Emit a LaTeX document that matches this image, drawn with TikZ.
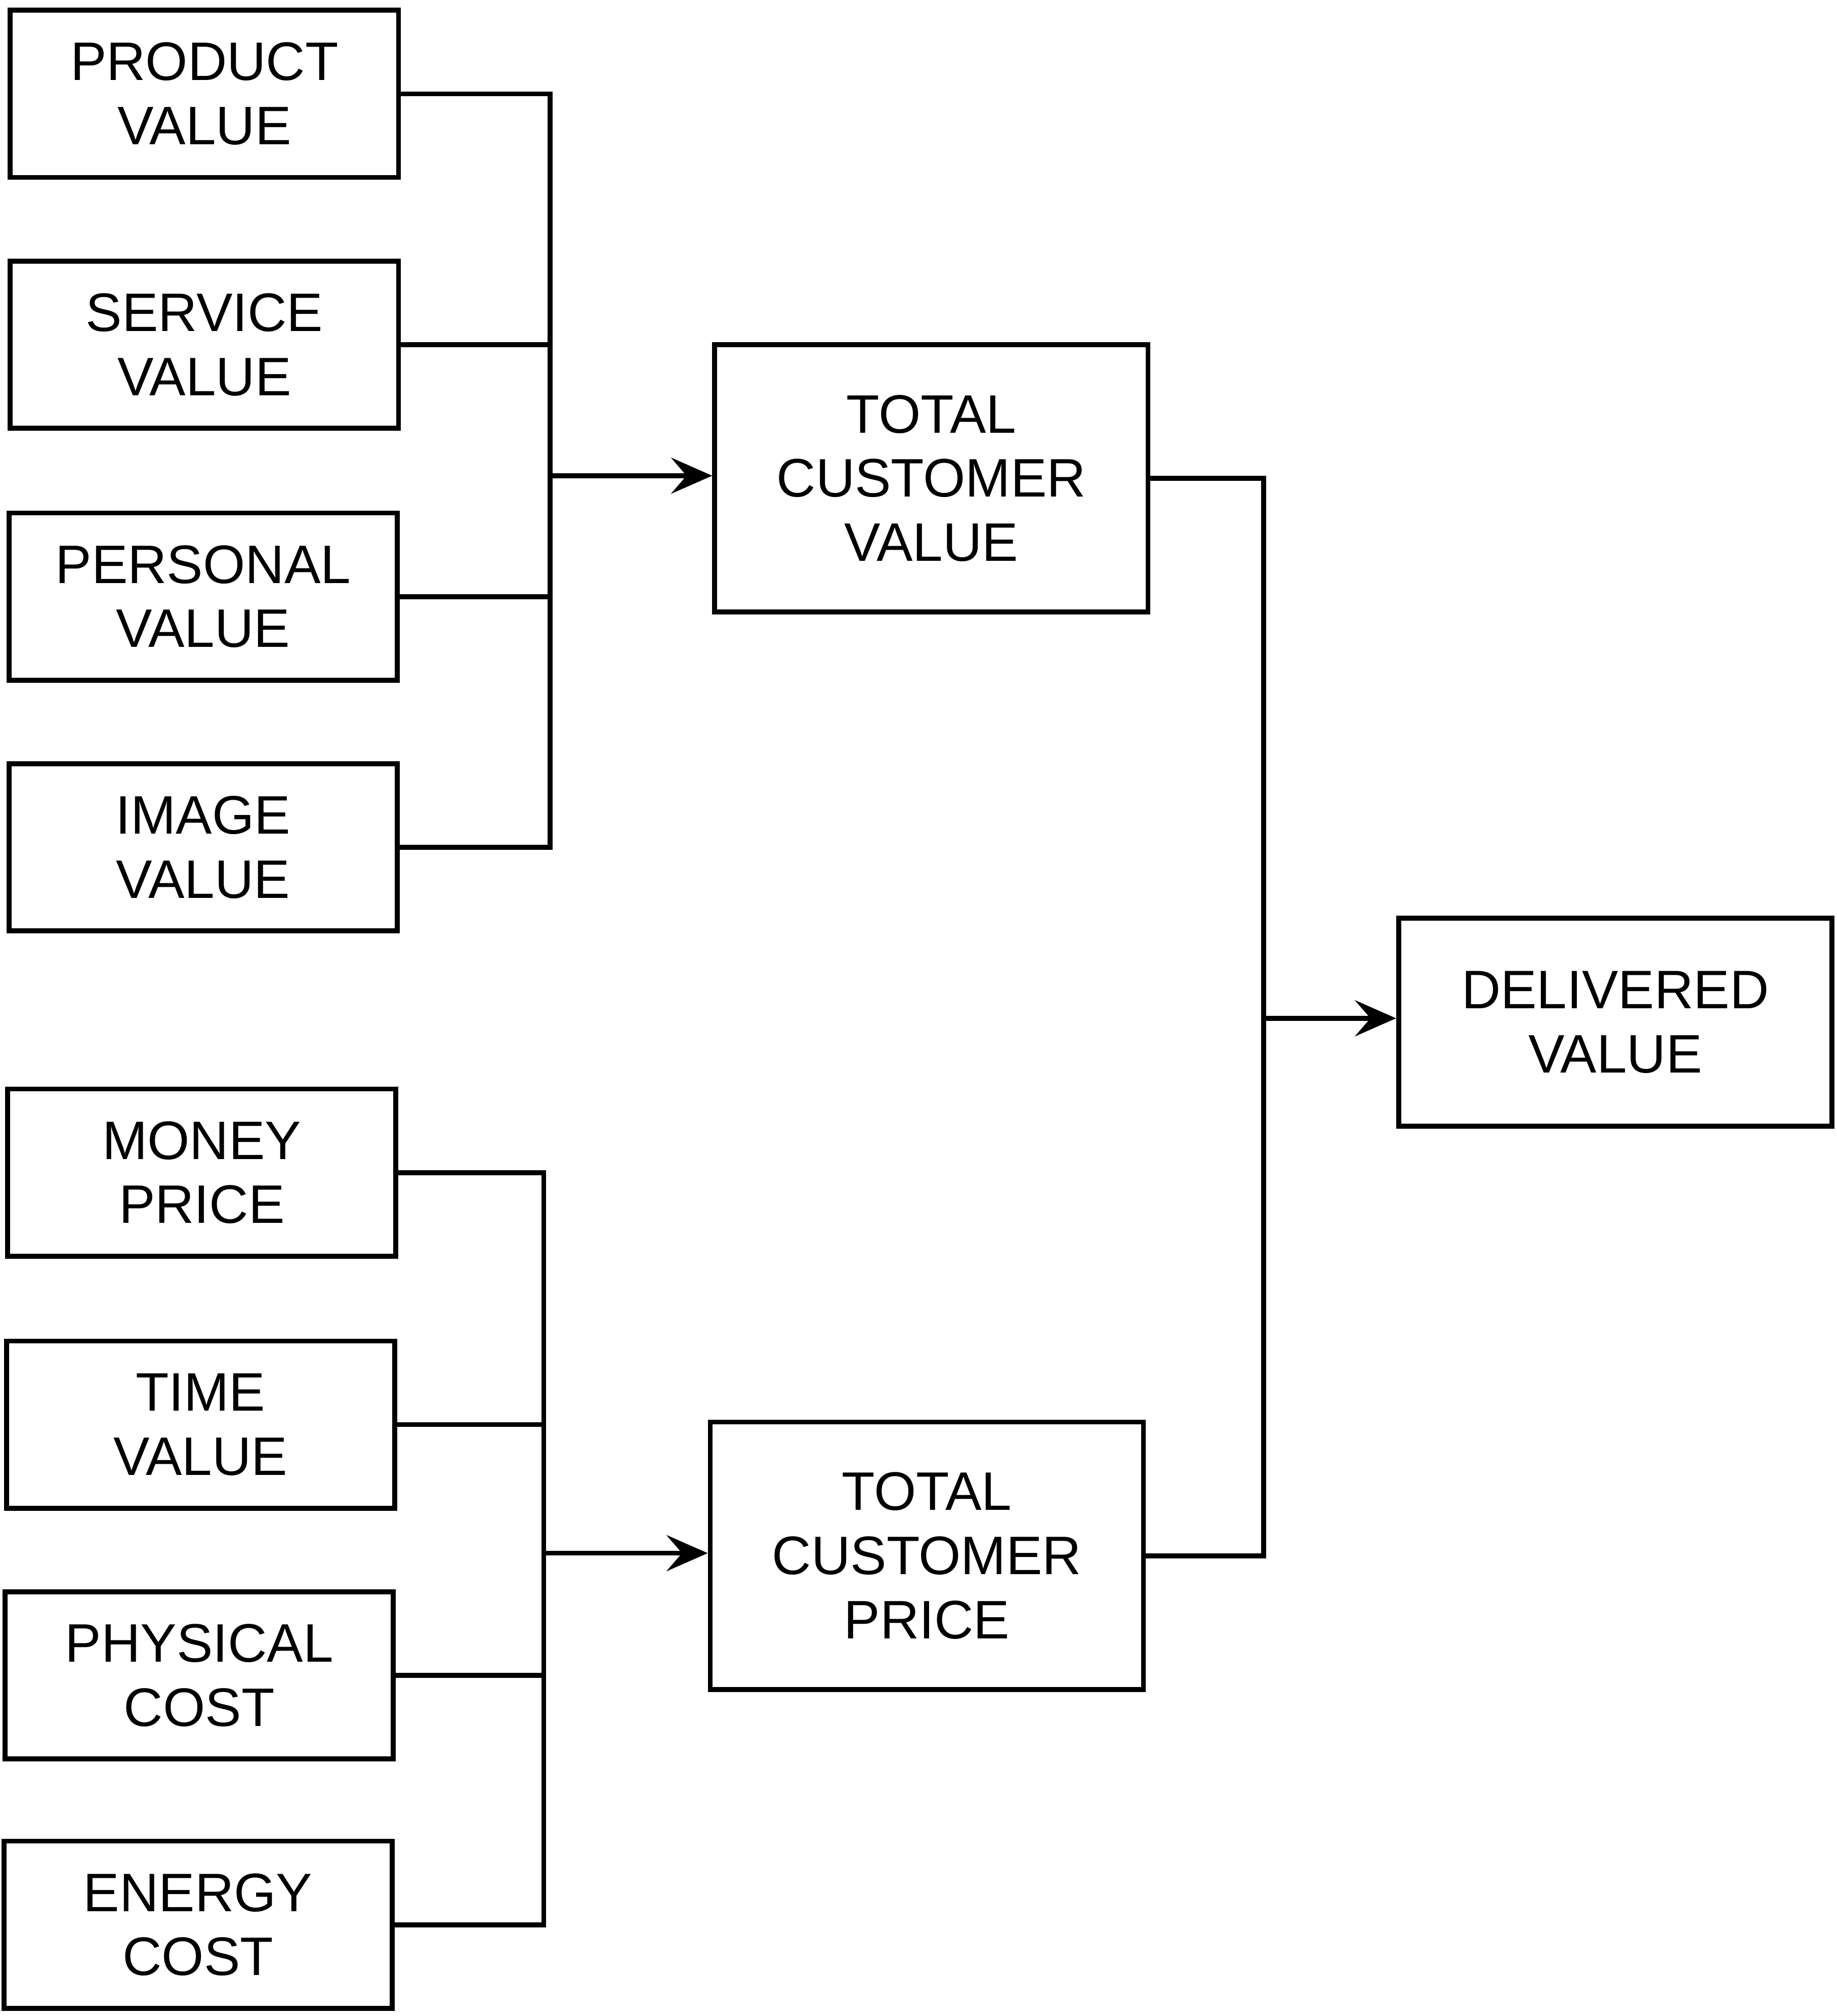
\documentclass[tikz,border=0pt]{standalone}
\usepackage{fontspec}
\setmainfont{Liberation Sans}
\usetikzlibrary{arrows.meta}

\tikzset{
  box/.style={draw,line width=1.1pt,minimum width=3.02cm,minimum height=1.30cm,align=center,font=\fontsize{12pt}{14.2pt}\selectfont},
  bigbox/.style={box,minimum width=3.37cm,minimum height=2.08cm},
  link/.style={line width=1.1pt,line join=miter},
  feed/.style={link,-{Stealth[length=3.2mm,width=2.8mm,inset=1.2mm]}}
}

\begin{document}
\begin{tikzpicture}
  \useasboundingbox (0,0) rectangle (14.29,-15.68);

  % benefits
  \node[box] (pv) at (1.59,-0.73) {PRODUCT\\VALUE};
  \node[box] (sv) at (1.59,-2.68) {SERVICE\\VALUE};
  \node[box] (psv) at (1.58,-4.64) {PERSONAL\\VALUE};
  \node[box] (iv) at (1.58,-6.59) {IMAGE\\VALUE};

  % costs
  \node[box] (mp) at (1.57,-9.12) {MONEY\\PRICE};
  \node[box] (tv) at (1.56,-11.08) {TIME\\VALUE};
  \node[box] (pc) at (1.55,-13.03) {PHYSICAL\\COST};
  \node[box] (ec) at (1.54,-14.97) {ENERGY\\COST};

  \node[bigbox] (tcv) at (7.245,-3.72) {TOTAL\\CUSTOMER\\VALUE};
  \node[bigbox] (tcp) at (7.21,-12.10) {TOTAL\\CUSTOMER\\PRICE};
  \node[bigbox,minimum height=1.62cm] (dv) at (12.565,-7.95) {DELIVERED\\VALUE};

  \coordinate (vbus) at (4.28,-3.70);
  \coordinate (pbus) at (4.23,-12.08);
  \coordinate (dbus) at (9.83,-7.92);

  \draw[link] (pv.east) -| (vbus) |- (iv.east);
  \foreach \n in {sv,psv} {
    \draw[link] (\n.east) -- (\n.east -| vbus);
  }
  \draw[feed] (vbus) -- (tcv.west |- vbus);

  \draw[link] (mp.east) -| (pbus) |- (ec.east);
  \foreach \n in {tv,pc} {
    \draw[link] (\n.east) -- (\n.east -| pbus);
  }
  \draw[feed] (pbus) -- (tcp.west |- pbus);

  \draw[link] (tcv.east) -| (dbus) |- (tcp.east);
  \draw[feed] (dbus) -- (dv.west |- dbus);
\end{tikzpicture}
\end{document}
